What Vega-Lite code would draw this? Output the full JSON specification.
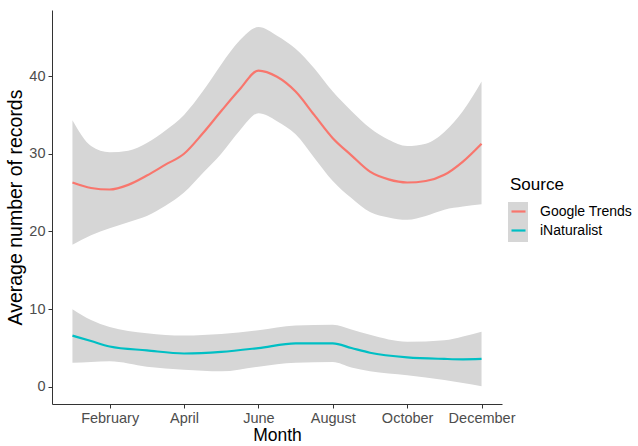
{
  "$schema": "https://vega.github.io/schema/vega-lite/v6.json",
  "width": 450,
  "height": 394,
  "autosize": {"type": "none"},
  "padding": {"left": 52, "top": 10, "right": 136, "bottom": 42},
  "config": {"view": {"stroke": null}, "font": "Liberation Sans"},
  "data": {
    "values": [
      {"month": 1, "Source": "Google Trends", "value": 26.3, "lower": 18.3, "upper": 34.3},
      {"month": 1.5, "Source": "Google Trends", "value": 25.6, "lower": 19.5, "upper": 31.0},
      {"month": 2, "Source": "Google Trends", "value": 25.4, "lower": 20.4, "upper": 30.2},
      {"month": 2.5, "Source": "Google Trends", "value": 26.0, "lower": 21.2, "upper": 30.4},
      {"month": 3, "Source": "Google Trends", "value": 27.2, "lower": 22.0, "upper": 31.4},
      {"month": 3.5, "Source": "Google Trends", "value": 28.6, "lower": 23.3, "upper": 33.0},
      {"month": 4, "Source": "Google Trends", "value": 30.0, "lower": 25.0, "upper": 35.0},
      {"month": 4.5, "Source": "Google Trends", "value": 32.6, "lower": 27.5, "upper": 38.0},
      {"month": 5, "Source": "Google Trends", "value": 35.5, "lower": 30.0, "upper": 41.5},
      {"month": 5.5, "Source": "Google Trends", "value": 38.3, "lower": 33.0, "upper": 44.6},
      {"month": 6, "Source": "Google Trends", "value": 40.7, "lower": 35.2, "upper": 46.3},
      {"month": 6.5, "Source": "Google Trends", "value": 39.9, "lower": 34.2, "upper": 45.2},
      {"month": 7, "Source": "Google Trends", "value": 38.0, "lower": 32.5, "upper": 43.5},
      {"month": 7.5, "Source": "Google Trends", "value": 35.0, "lower": 29.5, "upper": 41.0},
      {"month": 8, "Source": "Google Trends", "value": 32.0, "lower": 26.5, "upper": 38.0},
      {"month": 8.5, "Source": "Google Trends", "value": 29.8, "lower": 24.3, "upper": 35.5},
      {"month": 9, "Source": "Google Trends", "value": 27.7, "lower": 22.5, "upper": 33.3},
      {"month": 9.5, "Source": "Google Trends", "value": 26.7, "lower": 21.8, "upper": 31.8},
      {"month": 10, "Source": "Google Trends", "value": 26.3, "lower": 21.5, "upper": 31.0},
      {"month": 10.5, "Source": "Google Trends", "value": 26.5, "lower": 22.0, "upper": 31.3},
      {"month": 11, "Source": "Google Trends", "value": 27.3, "lower": 22.8, "upper": 32.8},
      {"month": 11.5, "Source": "Google Trends", "value": 29.0, "lower": 23.2, "upper": 35.5},
      {"month": 12, "Source": "Google Trends", "value": 31.3, "lower": 23.5, "upper": 39.3},
      {"month": 1, "Source": "iNaturalist", "value": 6.6, "lower": 3.1, "upper": 10.0},
      {"month": 1.5, "Source": "iNaturalist", "value": 5.9, "lower": 3.2, "upper": 8.6},
      {"month": 2, "Source": "iNaturalist", "value": 5.2, "lower": 3.3, "upper": 7.7},
      {"month": 3, "Source": "iNaturalist", "value": 4.7, "lower": 2.6, "upper": 6.9},
      {"month": 4, "Source": "iNaturalist", "value": 4.3, "lower": 2.2, "upper": 6.6},
      {"month": 5, "Source": "iNaturalist", "value": 4.5, "lower": 2.0, "upper": 6.8},
      {"month": 6, "Source": "iNaturalist", "value": 5.0, "lower": 2.6, "upper": 7.3},
      {"month": 7, "Source": "iNaturalist", "value": 5.6, "lower": 3.1, "upper": 7.9},
      {"month": 8, "Source": "iNaturalist", "value": 5.6, "lower": 3.2, "upper": 8.0},
      {"month": 8.5, "Source": "iNaturalist", "value": 5.0, "lower": 2.5, "upper": 7.4},
      {"month": 9, "Source": "iNaturalist", "value": 4.4, "lower": 2.0, "upper": 6.7},
      {"month": 10, "Source": "iNaturalist", "value": 3.8, "lower": 1.5, "upper": 5.8},
      {"month": 11, "Source": "iNaturalist", "value": 3.6, "lower": 0.9, "upper": 6.0},
      {"month": 11.5, "Source": "iNaturalist", "value": 3.55, "lower": 0.5, "upper": 6.5},
      {"month": 12, "Source": "iNaturalist", "value": 3.6, "lower": 0.1, "upper": 7.1}
    ]
  },
  "encoding": {
    "x": {
      "field": "month",
      "type": "quantitative",
      "scale": {"domain": [0.45, 12.55], "nice": false, "zero": false},
      "axis": {
        "title": "Month",
        "values": [2, 4, 6, 8, 10, 12],
        "labelExpr": "['','January','February','March','April','May','June','July','August','September','October','November','December'][datum.value]",
        "grid": false,
        "labelFontSize": 14.5,
        "labelColor": "#4d4d4d",
        "labelPadding": 3,
        "tickSize": 4,
        "tickColor": "#333333",
        "domainColor": "#333333",
        "titleFontSize": 17.5,
        "titleFontWeight": "normal",
        "titleColor": "#000000",
        "titlePadding": 2
      }
    }
  },
  "layer": [
    {
      "mark": {"type": "area", "interpolate": "monotone", "opacity": 1},
      "encoding": {
        "y": {
          "field": "lower",
          "type": "quantitative",
          "scale": {"domain": [-2.2, 48.5], "nice": false, "zero": false},
          "axis": {
            "title": "Average number of records",
            "values": [0, 10, 20, 30, 40],
            "grid": false,
            "labelFontSize": 14.5,
            "labelColor": "#4d4d4d",
            "labelPadding": 3,
            "tickSize": 4,
            "tickColor": "#333333",
            "domainColor": "#333333",
            "titleFontSize": 19.5,
            "titleFontWeight": "normal",
            "titleColor": "#000000",
            "titlePadding": 3
          }
        },
        "y2": {"field": "upper"},
        "fill": {
          "field": "Source",
          "type": "nominal",
          "scale": {"domain": ["iNaturalist", "Google Trends"], "range": ["#d6d6d6", "#d6d6d6"]},
          "legend": {
            "title": null,
            "orient": "none",
            "legendX": 456,
            "legendY": 192,
            "symbolType": "square",
            "symbolSize": 400,
            "symbolStrokeWidth": 0,
            "symbolOpacity": 1,
            "labelExpr": "''",
            "padding": 0,
            "rowPadding": 0
          }
        }
      }
    },
    {
      "mark": {"type": "line", "interpolate": "monotone", "strokeWidth": 2.2},
      "encoding": {
        "y": {"field": "value", "type": "quantitative"},
        "stroke": {
          "field": "Source",
          "type": "nominal",
          "scale": {"domain": ["Google Trends", "iNaturalist"], "range": ["#F8766D", "#00BFC4"]},
          "legend": {
            "title": "Source",
            "orient": "none",
            "legendX": 458,
            "legendY": 167,
            "symbolType": "stroke",
            "symbolSize": 196,
            "symbolStrokeWidth": 2.2,
            "labelFontSize": 14,
            "labelColor": "#000000",
            "labelOffset": 13,
            "titleFontSize": 17,
            "titleFontWeight": "normal",
            "titleColor": "#000000",
            "titlePadding": 9,
            "padding": 0,
            "rowPadding": 3
          }
        }
      }
    }
  ]
}
